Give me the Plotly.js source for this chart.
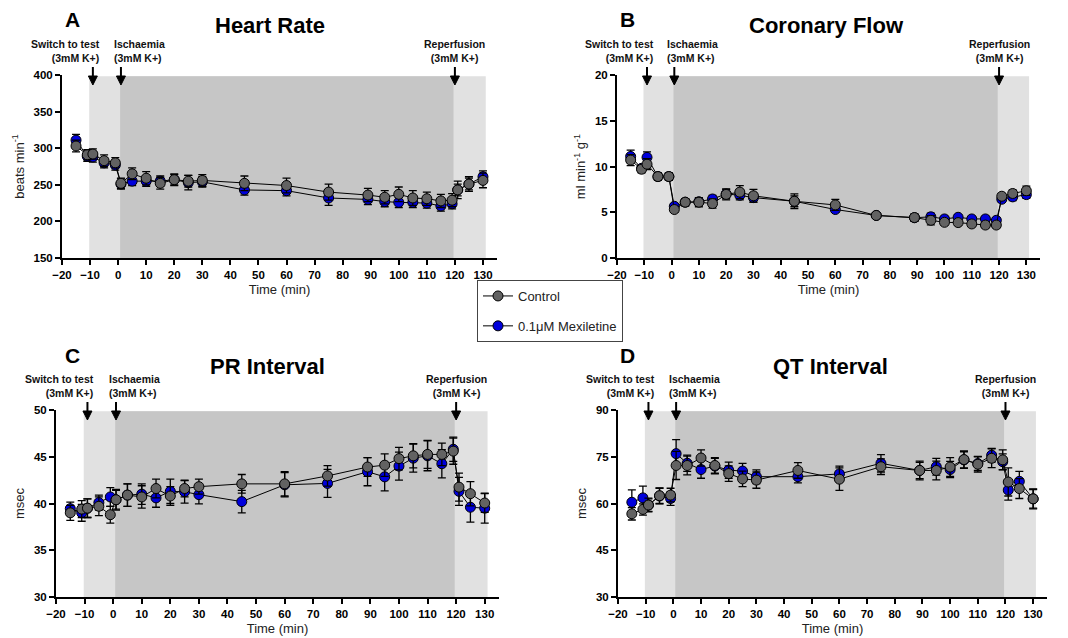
<!DOCTYPE html>
<html>
<head>
<meta charset="utf-8">
<script src="https://cdn.plot.ly/plotly-3.0.1.min.js"></script>
<style>
html,body{margin:0;padding:0;background:#fff;}
#chart{width:1068px;height:638px;}
</style>
</head>
<body>
<div id="chart"></div>
<script>
// ---- data ----
const time = [-15, -11, -9, -5, -1, 1, 5, 10, 15, 20, 25, 30, 45, 60, 75, 89, 95, 100, 105, 110, 115, 119, 121, 125, 130];
const seriesNames = ["Control", "0.1\u03bcM Mexiletine"];
const panelLetters = ["A", "B", "C", "D"];
const panelTitles = ["Heart Rate", "Coronary Flow", "PR Interval", "QT Interval"];
const yTitles = ["beats min<sup>-1</sup>", "ml min<sup>-1</sup> g<sup>-1</sup>", "msec", "msec"];
const xTitle = "Time (min)";
const eventTimes = [-9, 1, 120];
const eventLabels = ["Switch to test<br>(3mM K+)", "Ischaemia<br>(3mM K+)", "Reperfusion<br>(3mM K+)"];

// Heart rate (beats/min)
const hrControl = [303, 291, 292, 283, 280, 252, 265, 259, 252, 257, 255, 256, 252, 249, 240, 236, 233, 237, 232, 231, 228, 229, 243, 251, 256];
const hrControlErr = [8, 7, 7, 8, 7, 7, 8, 9, 8, 8, 8, 8, 10, 10, 11, 9, 9, 10, 10, 9, 9, 9, 12, 10, 10];
const hrMex = [311, 289, 288, 280, 277, 251, 255, 255, 255, 257, 253, 254, 243, 242, 232, 230, 227, 226, 226, 225, 221, 224, 243, 251, 261];
const hrMexErr = [8, 7, 7, 7, 7, 7, 6, 7, 7, 7, 10, 7, 7, 7, 10, 7, 7, 7, 7, 7, 7, 7, 8, 8, 8];

// Coronary flow (ml/min/g)
const cfControl = [10.7, 9.7, 10.25, 8.9, 8.9, 5.3, 6.1, 6.1, 5.95, 6.95, 7.2, 6.8, 6.2, 5.8, 4.65, 4.42, 4.12, 3.9, 3.87, 3.72, 3.6, 3.6, 6.75, 7.05, 7.35];
const cfControlErr = [0.6, 0.4, 0.6, 0.4, 0.4, 0.3, 0.4, 0.5, 0.5, 0.6, 0.7, 0.7, 0.8, 0.6, 0.3, 0.4, 0.5, 0.3, 0.3, 0.3, 0.3, 0.3, 0.3, 0.4, 0.5];
const cfMex = [11.1, 9.8, 11.0, 8.9, 8.9, 5.65, 6.1, 6.15, 6.45, 7.0, 6.85, 6.6, 6.2, 5.3, 4.65, 4.4, 4.5, 4.27, 4.45, 4.27, 4.27, 4.12, 6.42, 6.68, 6.93];
const cfMexErr = [0.7, 0.4, 0.6, 0.4, 0.4, 0.3, 0.4, 0.4, 0.4, 0.5, 0.5, 0.5, 0.6, 0.3, 0.3, 0.4, 0.4, 0.3, 0.3, 0.3, 0.3, 0.3, 0.3, 0.4, 0.4];

// PR interval (msec)
const prControl = [39.0, 39.4, 39.5, 39.7, 38.8, 40.4, 40.9, 40.7, 41.6, 40.8, 41.6, 41.8, 42.1, 42.1, 42.95, 43.9, 44.1, 44.8, 45.1, 45.25, 45.25, 45.6, 41.75, 41.05, 40.05];
const prControlErr = [0.8, 0.9, 1.0, 1.0, 0.9, 1.1, 1.2, 1.2, 1.0, 1.0, 0.9, 0.8, 1.0, 1.3, 1.1, 1.0, 1.2, 1.2, 1.3, 1.5, 1.2, 1.4, 1.5, 1.3, 1.0];
const prMex = [39.45, 39.0, 39.5, 40.1, 40.7, 40.4, 40.9, 41.0, 40.6, 41.3, 41.25, 40.95, 40.2, 42.0, 42.15, 43.4, 42.85, 44.0, 44.85, 45.1, 44.25, 45.8, 41.3, 39.6, 39.5];
const prMexErr = [0.7, 0.9, 1.0, 0.8, 1.0, 1.0, 1.2, 1.1, 1.0, 1.3, 1.2, 1.0, 1.2, 1.3, 1.5, 1.5, 1.5, 1.5, 1.5, 1.6, 1.5, 1.3, 1.5, 1.6, 1.6];

// QT interval (msec)
const qtControl = [56.7, 58.1, 59.5, 62.5, 62.7, 72.2, 72.2, 74.6, 72.2, 69.6, 67.9, 67.5, 70.6, 67.8, 71.8, 70.6, 70.6, 71.7, 74.1, 72.6, 74.5, 74.0, 66.9, 64.8, 61.5];
const qtControlErr = [2.0, 1.8, 2.2, 2.5, 2.2, 4.5, 3.0, 2.6, 2.5, 2.5, 2.5, 2.6, 2.5, 3.6, 2.5, 3.0, 3.0, 3.0, 2.8, 2.5, 3.0, 3.2, 4.5, 3.2, 3.2];
const qtMex = [60.4, 61.8, 59.5, 62.4, 61.6, 76.0, 72.9, 70.9, 72.0, 70.7, 70.4, 68.6, 68.6, 69.5, 72.9, 70.6, 71.8, 70.9, 74.0, 72.8, 75.5, 73.4, 64.3, 67.1, 61.5];
const qtMexErr = [4.0, 3.8, 2.0, 2.5, 2.2, 4.5, 2.6, 2.8, 2.5, 2.6, 2.5, 2.2, 2.0, 2.5, 2.8, 2.6, 2.7, 2.6, 2.6, 2.2, 2.2, 2.5, 3.2, 3.2, 3.0];

const yRanges = [[150, 400], [0, 20], [30, 50], [30, 90]];
const yDticks = [50, 5, 5, 15];

// ---- build ----
const controlSets = [[hrControl, hrControlErr], [cfControl, cfControlErr], [prControl, prControlErr], [qtControl, qtControlErr]];
const mexSets = [[hrMex, hrMexErr], [cfMex, cfMexErr], [prMex, prMexErr], [qtMex, qtMexErr]];

const W = 1068, H = 638;
// pixel boxes [left, right, top, bottom]
const boxes = [[62, 497, 75, 258], [617, 1040, 75, 258], [56, 499, 410, 597], [618, 1047, 410, 597]];

const traces = [];
const layout = {
  width: W, height: H,
  margin: {l: 0, r: 0, t: 0, b: 0},
  paper_bgcolor: "#ffffff", plot_bgcolor: "rgba(0,0,0,0)",
  font: {family: "Liberation Sans, Arial, sans-serif", color: "#000"},
  showlegend: true,
  legend: {
    x: 477 / W, y: 1 - 280 / H, xanchor: "left", yanchor: "top",
    bordercolor: "#444", borderwidth: 1, bgcolor: "#fff",
    font: {size: 13, color: "#222"}, tracegroupgap: 10,
    itemwidth: 30
  },
  shapes: [], annotations: []
};

for (let p = 0; p < 4; p++) {
  const xa = p === 0 ? "x" : "x" + (p + 1);
  const ya = p === 0 ? "y" : "y" + (p + 1);
  const xk = p === 0 ? "xaxis" : "xaxis" + (p + 1);
  const yk = p === 0 ? "yaxis" : "yaxis" + (p + 1);
  const b = boxes[p];
  const yr = yRanges[p];

  const mk = (name, vals, errs, color, grp, rank) => ({
    type: "scatter", mode: "lines+markers", name: name,
    x: time, y: vals, xaxis: xa, yaxis: ya,
    legendgroup: grp, showlegend: p === 0, legendrank: rank,
    line: {color: "#000", width: 1},
    marker: {size: 10, color: color, line: {color: "#000", width: 1}},
    error_y: {type: "data", array: errs, visible: true, color: "#000", thickness: 1.3, width: 4},
    cliponaxis: false, hoverinfo: "x+y"
  });
  traces.push(mk(seriesNames[1], mexSets[p][0], mexSets[p][1], "#0000dc", "m", 2));
  traces.push(mk(seriesNames[0], controlSets[p][0], controlSets[p][1], "#626262", "c", 1));

  const axFont = {family: "Liberation Sans, Arial, sans-serif", size: 11.5, color: "#000", weight: "bold"};
  layout[xk] = {
    domain: [b[0] / W, b[1] / W], anchor: ya, range: [-20, 135],
    tickmode: "linear", tick0: -20, dtick: 10,
    showline: true, linecolor: "#000", linewidth: 2,
    ticks: "outside", ticklen: 5, tickwidth: 2, tickcolor: "#000",
    showgrid: false, zeroline: false, tickfont: axFont,
    title: {text: xTitle, font: {size: 13, color: "#222"}, standoff: 5}
  };
  layout[yk] = {
    domain: [1 - b[3] / H, 1 - b[2] / H], anchor: xa, range: yr,
    tickmode: "linear", tick0: yr[0], dtick: yDticks[p],
    showline: true, linecolor: "#000", linewidth: 2,
    ticks: "outside", ticklen: 5, tickwidth: 2, tickcolor: "#000",
    showgrid: false, zeroline: false, tickfont: axFont,
    title: {text: yTitles[p], font: {size: 13, color: "#222"}, standoff: 6}
  };

  // shaded periods
  const top = yr[0] + (yr[1] - yr[0]) * 0.993;
  layout.shapes.push({type: "rect", xref: xa, yref: ya, x0: -10.3, x1: 131, y0: yr[0], y1: top,
    fillcolor: "#e1e1e1", line: {width: 0}, layer: "below"});
  layout.shapes.push({type: "rect", xref: xa, yref: ya, x0: 0.7, x1: 119.5, y0: yr[0], y1: top,
    fillcolor: "#c6c6c6", line: {width: 0}, layer: "below"});

  // panel letter & title
  const titleX = (b[0] + b[1]) / 2 + (p % 2 === 0 ? -10 : -2);
  const titleY = p < 2 ? 26 : 366;
  const letterX = p % 2 === 0 ? 72 : 627;
  const letterY = p < 2 ? 20 : 355;
  layout.annotations.push({xref: "paper", yref: "paper", x: letterX / W, y: 1 - letterY / H,
    text: "<b>" + panelLetters[p] + "</b>", showarrow: false, xanchor: "center", yanchor: "middle",
    font: {size: 21, color: "#000"}});
  layout.annotations.push({xref: "paper", yref: "paper", x: titleX / W, y: 1 - titleY / H,
    text: "<b>" + panelTitles[p] + "</b>", showarrow: false, xanchor: "center", yanchor: "middle",
    font: {size: 22, color: "#000"}});

  // event arrows (shapes in pixel units) & labels
  const anchors = ["right", "left", "center"];
  const shifts = [9, -9, 0];
  const aligns = ["right", "left", "center"];
  for (let e = 0; e < eventTimes.length; e++) {
    layout.shapes.push({type: "line", xref: xa, yref: ya + " domain",
      xsizemode: "pixel", ysizemode: "pixel", xanchor: eventTimes[e], yanchor: 1,
      x0: 0, x1: 0, y0: 8, y1: -3, line: {color: "#000", width: 2}, layer: "above"});
    layout.shapes.push({type: "path", xref: xa, yref: ya + " domain",
      xsizemode: "pixel", ysizemode: "pixel", xanchor: eventTimes[e], yanchor: 1,
      path: "M -4.5 -1 L 4.5 -1 L 0 -10 Z", fillcolor: "#000", line: {color: "#000", width: 1}, layer: "above"});
    layout.annotations.push({xref: xa, yref: ya + " domain", x: eventTimes[e], y: 1,
      yshift: 9, xshift: shifts[e], xanchor: anchors[e], yanchor: "bottom", align: aligns[e],
      text: "<b>" + eventLabels[e] + "</b>", showarrow: false,
      font: {size: 10.5, color: "#111"}});
  }
}

Plotly.newPlot("chart", traces, layout, {displayModeBar: false, staticPlot: true});
</script>
</body>
</html>
